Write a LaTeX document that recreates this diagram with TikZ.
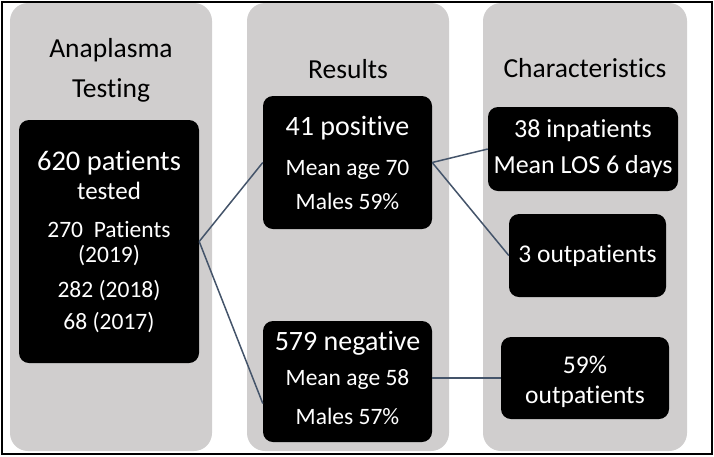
\documentclass[tikz,border=0pt]{standalone}
\usepackage{fontspec}
\setmainfont{Carlito}[Ligatures=NoCommon]
\definecolor{colgray}{HTML}{D0CECE}
\definecolor{linkgray}{HTML}{44546A}
% font size with zero baselineskip, so \\[len] gives the baseline distance
\newcommand{\tightfont}[1]{\fontsize{#1}{0}\selectfont\lineskiplimit=-100pt\relax}
\newcommand{\fs}[1]{\fontsize{#1}{0}\selectfont}

\begin{document}
\begin{tikzpicture}[x=1pt, y=-1pt,
    column/.style={fill=colgray, rounded corners=18pt, minimum width=202pt, minimum height=448pt, inner sep=0pt},
    blackbox/.style={fill=black, text=white, rounded corners=10pt, align=center, inner sep=0pt, font=\tightfont{23.5}},
    heading/.style={align=center, inner sep=0pt, font=\tightfont{27.5}},
    link/.style={draw=linkgray, line width=1.5pt}]
  \useasboundingbox (0,0) rectangle (714,456);
  % frame
  \draw[line width=1.6pt] (2,2) rectangle (712,454);
  % columns
  \node[column] (col1) at (111,227) {};
  \node[column] (col2) at (348,227) {};
  \node[column, minimum width=204pt] (col3) at (585,227) {};
  % headings
  \node[heading] (testing) at (111,70) {Anaplasma\\[40pt]Testing};
  \node[heading, anchor=base] (results) at (348,78) {Results};
  \node[heading, anchor=base] (characteristics) at (585,77) {Characteristics};
  % boxes
  \node[blackbox, minimum width=180pt, minimum height=243pt] (tested) at (109,241.5)
    {{\fs{28.5}620 patients}\\[29pt]{\fs{25}tested}\\[38pt]270\ \ Patients\\[25pt](2019)\\[35pt]282 (2018)\\[32pt]68 (2017)};
  \node[blackbox, minimum width=169pt, minimum height=133pt] (pos) at (347.5,162.5)
    {{\fs{28}41 positive}\\[40pt]Mean age 70\\[34pt]Males 59\%};
  \node[blackbox, minimum width=169pt, minimum height=121pt] (neg) at (347.5,381.5)
    {{\fs{28}579 negative}\\[35pt]Mean age 58\\[39pt]Males 57\%\rule[-8pt]{0pt}{8pt}};
  \node[blackbox, font=\tightfont{26}, minimum width=190pt, minimum height=84pt] (inpat) at (583,149)
    {38 inpatients\\[36pt]Mean LOS 6 days};
  \node[blackbox, font=\tightfont{25.5}, minimum width=157pt, minimum height=83pt] (outpat) at (587.5,255.5)
    {3 outpatients};
  \node[blackbox, font=\tightfont{25.5}, minimum width=168pt, minimum height=82pt] (negout) at (585,378)
    {\rule{0pt}{25pt}59\%\\[30pt]outpatients};
  % links
  \draw[link] (tested.east) -- (pos.west);
  \draw[link] (tested.east) -- ([yshift=-22pt]neg.west);
  \draw[link] (pos.east) -- (inpat.west);
  \draw[link] (pos.east) -- (outpat.west);
  \draw[link] (neg.east |- negout.west) -- (negout.west);
\end{tikzpicture}
\end{document}
